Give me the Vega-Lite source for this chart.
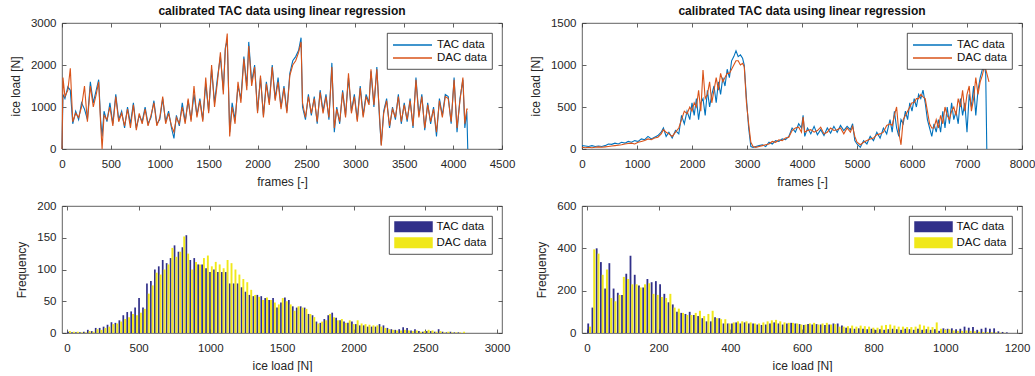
{
  "$schema": "https://vega.github.io/schema/vega-lite/v6.json",
  "background": "white",
  "padding": {"left": 9, "top": 4, "right": 0, "bottom": 0},
  "columns": 2,
  "bounds": "flush",
  "spacing": {"row": 57, "column": 80},
  "resolve": {"scale": {"color": "independent"}, "legend": {"color": "independent"}},
  "config": {
    "font": "Liberation Sans",
    "view": {"stroke": "#3a3a3a", "strokeWidth": 0.8},
    "axis": {"grid": false, "domain": false, "format": "d", "tickSize": -4, "tickColor": "#3a3a3a", "tickWidth": 0.8, "labelPadding": 10, "labelFontSize": 11.5, "labelColor": "#262626", "titleFontSize": 12, "titleFontWeight": "normal", "titleColor": "#262626", "titlePadding": 5, "labelFlush": false, "labelOverlap": false},
    "axisX": {"labelPadding": 13, "titlePadding": 7},
    "axisY": {"titlePadding": 8},
    "title": {"fontSize": 12, "fontWeight": "bold", "color": "#111111", "offset": -1},
    "legend": {"orient": "top-right", "offset": 10, "fillColor": "white", "strokeColor": "#262626", "strokeWidth": 0.8, "padding": 5, "labelFontSize": 11.5, "labelColor": "#111111", "rowPadding": 0, "labelOffset": 31}
  },
  "datasets": {
    "A": [
      {"f":0,"t":0,"d":0},{"f":10,"t":1300,"d":1700},{"f":30,"t":1200,"d":1250},{"f":60,"t":1480,"d":1400},{"f":85,"t":1400,"d":1920},{"f":110,"t":600,"d":650},{"f":140,"t":900,"d":850},{"f":170,"t":700,"d":750},{"f":200,"t":1100,"d":1000},{"f":230,"t":950,"d":1500},{"f":260,"t":700,"d":650},{"f":290,"t":1600,"d":1500},{"f":320,"t":1100,"d":1000},{"f":350,"t":1400,"d":1300},{"f":375,"t":1650,"d":1600},{"f":395,"t":700,"d":600},{"f":410,"t":300,"d":0},{"f":430,"t":900,"d":800},{"f":460,"t":650,"d":700},{"f":490,"t":1100,"d":1000},{"f":520,"t":600,"d":550},{"f":550,"t":1300,"d":1250},{"f":580,"t":700,"d":650},{"f":610,"t":900,"d":850},{"f":640,"t":500,"d":550},{"f":670,"t":1000,"d":950},{"f":700,"t":600,"d":500},{"f":730,"t":1100,"d":1050},{"f":760,"t":500,"d":450},{"f":790,"t":800,"d":850},{"f":820,"t":650,"d":600},{"f":850,"t":1000,"d":950},{"f":880,"t":600,"d":550},{"f":910,"t":750,"d":800},{"f":940,"t":1150,"d":1100},{"f":970,"t":600,"d":550},{"f":1000,"t":700,"d":750},{"f":1030,"t":1200,"d":1250},{"f":1060,"t":650,"d":600},{"f":1090,"t":900,"d":850},{"f":1120,"t":500,"d":550},{"f":1145,"t":250,"d":400},{"f":1170,"t":800,"d":750},{"f":1200,"t":550,"d":600},{"f":1230,"t":1100,"d":1000},{"f":1260,"t":650,"d":600},{"f":1290,"t":1150,"d":1200},{"f":1320,"t":700,"d":650},{"f":1350,"t":1300,"d":1500},{"f":1380,"t":800,"d":750},{"f":1410,"t":1200,"d":1150},{"f":1440,"t":700,"d":650},{"f":1470,"t":1550,"d":1700},{"f":1500,"t":900,"d":850},{"f":1530,"t":1900,"d":2000},{"f":1560,"t":1100,"d":1000},{"f":1590,"t":1700,"d":1600},{"f":1620,"t":2200,"d":2300},{"f":1650,"t":1400,"d":1300},{"f":1670,"t":2400,"d":2350},{"f":1690,"t":2600,"d":2750},{"f":1715,"t":400,"d":300},{"f":1740,"t":1100,"d":1000},{"f":1770,"t":700,"d":600},{"f":1800,"t":1500,"d":1600},{"f":1830,"t":1200,"d":1100},{"f":1860,"t":2200,"d":2150},{"f":1890,"t":1500,"d":1400},{"f":1910,"t":2550,"d":2450},{"f":1940,"t":1600,"d":1500},{"f":1970,"t":2000,"d":1950},{"f":2000,"t":900,"d":850},{"f":2030,"t":1700,"d":1750},{"f":2060,"t":800,"d":750},{"f":2090,"t":1600,"d":1550},{"f":2120,"t":1100,"d":1050},{"f":2150,"t":2000,"d":1950},{"f":2180,"t":1200,"d":1150},{"f":2210,"t":1700,"d":1600},{"f":2240,"t":1000,"d":950},{"f":2270,"t":1500,"d":1450},{"f":2300,"t":900,"d":850},{"f":2330,"t":1800,"d":1750},{"f":2360,"t":2100,"d":2000},{"f":2390,"t":2200,"d":2100},{"f":2420,"t":2350,"d":2300},{"f":2445,"t":2650,"d":2550},{"f":2460,"t":1000,"d":1100},{"f":2490,"t":700,"d":750},{"f":2520,"t":1300,"d":1250},{"f":2550,"t":800,"d":850},{"f":2580,"t":1250,"d":1200},{"f":2610,"t":600,"d":650},{"f":2640,"t":1400,"d":1350},{"f":2670,"t":900,"d":850},{"f":2700,"t":1300,"d":1250},{"f":2730,"t":700,"d":750},{"f":2760,"t":2050,"d":1950},{"f":2785,"t":400,"d":500},{"f":2810,"t":1000,"d":950},{"f":2840,"t":600,"d":650},{"f":2870,"t":1400,"d":1350},{"f":2900,"t":800,"d":750},{"f":2930,"t":1700,"d":1800},{"f":2960,"t":900,"d":850},{"f":2990,"t":1300,"d":1250},{"f":3020,"t":700,"d":650},{"f":3050,"t":1500,"d":1450},{"f":3080,"t":800,"d":750},{"f":3110,"t":1300,"d":1250},{"f":3140,"t":1100,"d":1050},{"f":3160,"t":1850,"d":1900},{"f":3190,"t":1000,"d":1050},{"f":3220,"t":1950,"d":1900},{"f":3250,"t":600,"d":700},{"f":3265,"t":100,"d":80},{"f":3290,"t":900,"d":850},{"f":3320,"t":1200,"d":1150},{"f":3350,"t":500,"d":550},{"f":3380,"t":1000,"d":950},{"f":3410,"t":700,"d":750},{"f":3440,"t":1300,"d":1250},{"f":3470,"t":600,"d":650},{"f":3500,"t":1100,"d":1050},{"f":3530,"t":650,"d":700},{"f":3560,"t":1200,"d":1150},{"f":3590,"t":500,"d":550},{"f":3620,"t":1700,"d":1650},{"f":3650,"t":800,"d":750},{"f":3680,"t":1300,"d":1250},{"f":3710,"t":450,"d":500},{"f":3740,"t":1100,"d":1050},{"f":3770,"t":600,"d":650},{"f":3800,"t":1000,"d":950},{"f":3830,"t":300,"d":400},{"f":3860,"t":1200,"d":1150},{"f":3890,"t":800,"d":750},{"f":3920,"t":1300,"d":1250},{"f":3950,"t":1250,"d":1200},{"f":3980,"t":600,"d":650},{"f":4010,"t":1700,"d":1650},{"f":4040,"t":400,"d":500},{"f":4070,"t":1200,"d":1150},{"f":4100,"t":1650,"d":1700},{"f":4120,"t":500,"d":600},{"f":4140,"t":900,"d":950},{"f":4150,"t":0,"d":950}
    ],
    "B": [
      {"f":0,"t":40,"d":20},{"f":60,"t":35,"d":15},{"f":120,"t":30,"d":20},{"f":180,"t":40,"d":15},{"f":240,"t":30,"d":20},{"f":300,"t":35,"d":25},{"f":360,"t":30,"d":20},{"f":420,"t":40,"d":25},{"f":480,"t":60,"d":30},{"f":540,"t":55,"d":35},{"f":600,"t":70,"d":40},{"f":660,"t":60,"d":45},{"f":720,"t":80,"d":50},{"f":780,"t":70,"d":60},{"f":840,"t":90,"d":65},{"f":900,"t":80,"d":70},{"f":960,"t":100,"d":60},{"f":1020,"t":90,"d":80},{"f":1080,"t":120,"d":90},{"f":1140,"t":110,"d":100},{"f":1200,"t":150,"d":120},{"f":1260,"t":120,"d":110},{"f":1320,"t":140,"d":130},{"f":1380,"t":160,"d":140},{"f":1440,"t":200,"d":180},{"f":1480,"t":250,"d":230},{"f":1530,"t":150,"d":200},{"f":1580,"t":200,"d":180},{"f":1640,"t":130,"d":150},{"f":1700,"t":220,"d":200},{"f":1760,"t":180,"d":250},{"f":1810,"t":400,"d":350},{"f":1860,"t":300,"d":450},{"f":1910,"t":450,"d":420},{"f":1960,"t":350,"d":500},{"f":2000,"t":550,"d":450},{"f":2040,"t":400,"d":550},{"f":2080,"t":600,"d":500},{"f":2120,"t":350,"d":700},{"f":2160,"t":550,"d":450},{"f":2200,"t":600,"d":940},{"f":2240,"t":400,"d":600},{"f":2280,"t":700,"d":650},{"f":2320,"t":500,"d":800},{"f":2360,"t":650,"d":550},{"f":2400,"t":750,"d":700},{"f":2440,"t":550,"d":850},{"f":2480,"t":800,"d":700},{"f":2520,"t":650,"d":900},{"f":2560,"t":850,"d":800},{"f":2600,"t":750,"d":850},{"f":2640,"t":950,"d":900},{"f":2680,"t":850,"d":900},{"f":2720,"t":1050,"d":950},{"f":2760,"t":1100,"d":1000},{"f":2800,"t":1170,"d":1050},{"f":2840,"t":1100,"d":1050},{"f":2880,"t":1120,"d":1000},{"f":2920,"t":1080,"d":1020},{"f":2950,"t":1000,"d":980},{"f":2990,"t":600,"d":550},{"f":3030,"t":250,"d":300},{"f":3070,"t":30,"d":80},{"f":3110,"t":20,"d":30},{"f":3160,"t":30,"d":20},{"f":3220,"t":40,"d":30},{"f":3280,"t":50,"d":40},{"f":3340,"t":30,"d":50},{"f":3400,"t":80,"d":60},{"f":3460,"t":60,"d":90},{"f":3520,"t":100,"d":80},{"f":3580,"t":90,"d":110},{"f":3640,"t":120,"d":100},{"f":3700,"t":110,"d":130},{"f":3760,"t":150,"d":140},{"f":3820,"t":250,"d":220},{"f":3880,"t":200,"d":250},{"f":3940,"t":300,"d":260},{"f":3990,"t":250,"d":200},{"f":4020,"t":400,"d":380},{"f":4050,"t":150,"d":200},{"f":4100,"t":250,"d":220},{"f":4160,"t":180,"d":230},{"f":4220,"t":270,"d":200},{"f":4280,"t":170,"d":220},{"f":4340,"t":230,"d":260},{"f":4400,"t":160,"d":180},{"f":4460,"t":250,"d":200},{"f":4520,"t":190,"d":250},{"f":4580,"t":270,"d":220},{"f":4640,"t":200,"d":230},{"f":4700,"t":280,"d":250},{"f":4760,"t":220,"d":180},{"f":4820,"t":270,"d":250},{"f":4880,"t":230,"d":200},{"f":4920,"t":300,"d":270},{"f":4960,"t":100,"d":150},{"f":5000,"t":60,"d":80},{"f":5060,"t":20,"d":50},{"f":5120,"t":100,"d":80},{"f":5180,"t":60,"d":100},{"f":5240,"t":150,"d":120},{"f":5300,"t":100,"d":130},{"f":5360,"t":200,"d":170},{"f":5420,"t":130,"d":180},{"f":5480,"t":250,"d":200},{"f":5540,"t":180,"d":280},{"f":5600,"t":350,"d":300},{"f":5640,"t":200,"d":280},{"f":5680,"t":450,"d":400},{"f":5720,"t":250,"d":500},{"f":5760,"t":150,"d":200},{"f":5800,"t":350,"d":50},{"f":5840,"t":300,"d":350},{"f":5880,"t":450,"d":400},{"f":5920,"t":350,"d":450},{"f":5960,"t":550,"d":500},{"f":6000,"t":450,"d":550},{"f":6040,"t":600,"d":550},{"f":6080,"t":500,"d":600},{"f":6120,"t":650,"d":600},{"f":6160,"t":600,"d":650},{"f":6200,"t":700,"d":620},{"f":6240,"t":550,"d":600},{"f":6280,"t":350,"d":450},{"f":6320,"t":250,"d":300},{"f":6360,"t":150,"d":250},{"f":6400,"t":300,"d":250},{"f":6440,"t":200,"d":350},{"f":6480,"t":350,"d":250},{"f":6520,"t":200,"d":400},{"f":6560,"t":450,"d":300},{"f":6600,"t":250,"d":500},{"f":6640,"t":500,"d":400},{"f":6680,"t":300,"d":350},{"f":6720,"t":550,"d":450},{"f":6760,"t":350,"d":500},{"f":6800,"t":450,"d":400},{"f":6840,"t":300,"d":600},{"f":6880,"t":600,"d":500},{"f":6920,"t":400,"d":700},{"f":6960,"t":550,"d":450},{"f":7000,"t":200,"d":650},{"f":7040,"t":650,"d":750},{"f":7080,"t":500,"d":450},{"f":7120,"t":750,"d":600},{"f":7160,"t":400,"d":850},{"f":7200,"t":700,"d":650},{"f":7240,"t":850,"d":800},{"f":7280,"t":950,"d":880},{"f":7320,"t":980,"d":1000},{"f":7340,"t":900,"d":950},{"f":7360,"t":0,"d":900},{"f":7400,"d":800}
    ],
    "C": [
      {"c":14,"t":2,"d":3},{"c":41.5,"t":1,"d":2},{"c":69,"t":1,"d":2},{"c":96.5,"t":1,"d":1},{"c":124,"t":2,"d":1},{"c":151.5,"t":5,"d":3},{"c":179,"t":3,"d":2},{"c":206.5,"t":8,"d":6},{"c":234,"t":8,"d":5},{"c":261.5,"t":10,"d":8},{"c":289,"t":13,"d":10},{"c":316.5,"t":17,"d":14},{"c":344,"t":16,"d":15},{"c":371.5,"t":20,"d":18},{"c":399,"t":28,"d":22},{"c":426.5,"t":33,"d":25},{"c":454,"t":34,"d":30},{"c":481.5,"t":40,"d":28},{"c":509,"t":55,"d":32},{"c":536.5,"t":40,"d":38},{"c":564,"t":78,"d":62},{"c":591.5,"t":82,"d":75},{"c":619,"t":100,"d":95},{"c":646.5,"t":105,"d":92},{"c":674,"t":115,"d":100},{"c":701.5,"t":110,"d":108},{"c":729,"t":118,"d":134},{"c":756.5,"t":138,"d":120},{"c":784,"t":128,"d":128},{"c":811.5,"t":135,"d":152},{"c":839,"t":154,"d":125},{"c":866.5,"t":115,"d":100},{"c":894,"t":118,"d":112},{"c":921.5,"t":108,"d":108},{"c":949,"t":108,"d":118},{"c":976.5,"t":102,"d":122},{"c":1004,"t":96,"d":105},{"c":1031.5,"t":100,"d":112},{"c":1059,"t":96,"d":108},{"c":1086.5,"t":96,"d":102},{"c":1114,"t":96,"d":115},{"c":1141.5,"t":78,"d":110},{"c":1169,"t":78,"d":100},{"c":1196.5,"t":78,"d":92},{"c":1224,"t":72,"d":85},{"c":1251.5,"t":65,"d":80},{"c":1279,"t":60,"d":68},{"c":1306.5,"t":58,"d":60},{"c":1334,"t":60,"d":57},{"c":1361.5,"t":58,"d":52},{"c":1389,"t":55,"d":56},{"c":1416.5,"t":52,"d":52},{"c":1444,"t":55,"d":48},{"c":1471.5,"t":40,"d":45},{"c":1499,"t":48,"d":55},{"c":1526.5,"t":56,"d":50},{"c":1554,"t":52,"d":45},{"c":1581.5,"t":42,"d":35},{"c":1609,"t":40,"d":42},{"c":1636.5,"t":42,"d":40},{"c":1664,"t":40,"d":38},{"c":1691.5,"t":30,"d":30},{"c":1719,"t":28,"d":25},{"c":1746.5,"t":18,"d":15},{"c":1774,"t":16,"d":18},{"c":1801.5,"t":22,"d":20},{"c":1829,"t":28,"d":30},{"c":1856.5,"t":32,"d":25},{"c":1884,"t":24,"d":20},{"c":1911.5,"t":20,"d":22},{"c":1939,"t":18,"d":16},{"c":1966.5,"t":16,"d":20},{"c":1994,"t":18,"d":14},{"c":2021.5,"t":14,"d":20},{"c":2049,"t":12,"d":15},{"c":2076.5,"t":12,"d":14},{"c":2104,"t":10,"d":13},{"c":2131.5,"t":10,"d":12},{"c":2159,"t":10,"d":12},{"c":2186.5,"t":14,"d":10},{"c":2214,"t":12,"d":8},{"c":2241.5,"t":8,"d":6},{"c":2269,"t":6,"d":5},{"c":2296.5,"t":5,"d":4},{"c":2324,"t":6,"d":4},{"c":2351.5,"t":9,"d":5},{"c":2379,"t":8,"d":4},{"c":2406.5,"t":4,"d":3},{"c":2434,"t":6,"d":4},{"c":2461.5,"t":3,"d":2},{"c":2489,"t":2,"d":3},{"c":2516.5,"t":3,"d":5},{"c":2544,"t":3,"d":4},{"c":2571.5,"t":2,"d":2},{"c":2599,"t":6,"d":3},{"c":2626.5,"t":2,"d":1},{"c":2654,"t":1,"d":2},{"c":2681.5,"t":2,"d":1},{"c":2709,"t":1,"d":1},{"c":2736.5,"t":1,"d":1},{"c":2764,"t":0,"d":2}
    ],
    "D": [
      {"c":5.9,"t":45,"d":30},{"c":17.7,"t":120,"d":395},{"c":29.5,"t":400,"d":375},{"c":41.3,"t":335,"d":275},{"c":53.1,"t":210,"d":300},{"c":64.9,"t":330,"d":165},{"c":76.7,"t":210,"d":150},{"c":88.5,"t":190,"d":180},{"c":100.3,"t":180,"d":265},{"c":112.1,"t":280,"d":255},{"c":123.9,"t":365,"d":230},{"c":135.7,"t":275,"d":230},{"c":147.5,"t":225,"d":215},{"c":159.3,"t":215,"d":230},{"c":171.1,"t":255,"d":235},{"c":182.9,"t":240,"d":185},{"c":194.7,"t":245,"d":180},{"c":206.5,"t":230,"d":170},{"c":218.3,"t":185,"d":165},{"c":230.1,"t":145,"d":185},{"c":241.9,"t":135,"d":120},{"c":253.7,"t":100,"d":115},{"c":265.5,"t":95,"d":95},{"c":277.3,"t":90,"d":85},{"c":289.1,"t":100,"d":85},{"c":300.9,"t":85,"d":95},{"c":312.7,"t":80,"d":105},{"c":324.5,"t":70,"d":80},{"c":336.3,"t":55,"d":90},{"c":348.1,"t":55,"d":105},{"c":359.9,"t":75,"d":70},{"c":371.7,"t":70,"d":65},{"c":383.5,"t":45,"d":65},{"c":395.3,"t":45,"d":45},{"c":407.1,"t":45,"d":50},{"c":418.9,"t":50,"d":55},{"c":430.7,"t":45,"d":55},{"c":442.5,"t":50,"d":55},{"c":454.3,"t":45,"d":50},{"c":466.1,"t":45,"d":45},{"c":477.9,"t":40,"d":45},{"c":489.7,"t":38,"d":50},{"c":501.5,"t":40,"d":55},{"c":513.3,"t":45,"d":60},{"c":525.1,"t":50,"d":62},{"c":536.9,"t":45,"d":55},{"c":548.7,"t":40,"d":50},{"c":560.5,"t":45,"d":48},{"c":572.3,"t":48,"d":48},{"c":584.1,"t":45,"d":45},{"c":595.9,"t":42,"d":40},{"c":607.7,"t":38,"d":40},{"c":619.5,"t":42,"d":45},{"c":631.3,"t":40,"d":48},{"c":643.1,"t":42,"d":40},{"c":654.9,"t":40,"d":45},{"c":666.7,"t":38,"d":48},{"c":678.5,"t":40,"d":40},{"c":690.3,"t":45,"d":42},{"c":702.1,"t":45,"d":30},{"c":713.9,"t":35,"d":30},{"c":725.7,"t":25,"d":32},{"c":737.5,"t":22,"d":35},{"c":749.3,"t":20,"d":30},{"c":761.1,"t":22,"d":35},{"c":772.9,"t":20,"d":32},{"c":784.7,"t":18,"d":30},{"c":796.5,"t":20,"d":25},{"c":808.3,"t":15,"d":25},{"c":820.1,"t":18,"d":35},{"c":831.9,"t":15,"d":38},{"c":843.7,"t":18,"d":40},{"c":855.5,"t":20,"d":35},{"c":867.3,"t":18,"d":30},{"c":879.1,"t":15,"d":30},{"c":890.9,"t":20,"d":28},{"c":902.7,"t":18,"d":28},{"c":914.5,"t":15,"d":30},{"c":926.3,"t":20,"d":40},{"c":938.1,"t":15,"d":35},{"c":949.9,"t":18,"d":30},{"c":961.7,"t":15,"d":28},{"c":973.5,"t":18,"d":50},{"c":985.3,"t":10,"d":20},{"c":997.1,"t":22,"d":15},{"c":1008.9,"t":20,"d":18},{"c":1020.7,"t":22,"d":12},{"c":1032.5,"t":18,"d":10},{"c":1044.3,"t":20,"d":10},{"c":1056.1,"t":30,"d":12},{"c":1067.9,"t":25,"d":10},{"c":1079.7,"t":28,"d":8},{"c":1091.5,"t":15,"d":6},{"c":1103.3,"t":20,"d":5},{"c":1115.1,"t":25,"d":5},{"c":1126.9,"t":20,"d":4},{"c":1138.7,"t":22,"d":3},{"c":1150.5,"t":8,"d":2},{"c":1162.3,"t":5,"d":1},{"c":1174.1,"t":3,"d":0}
    ]
  },
  "concat": [
    {
      "width": 440, "height": 126,
      "title": "calibrated TAC data using linear regression",
      "data": {"name": "A"},
      "resolve": {"axis": {"x": "independent", "y": "independent"}},
      "layer": [
        {"mark": {"type": "line", "strokeWidth": 1.1}, "encoding": {
          "x": {"field": "f", "type": "quantitative", "scale": {"domain": [0, 4500], "nice": false}, "axis": {"title": "frames [-]", "values": [0,500,1000,1500,2000,2500,3000,3500,4000,4500]}},
          "y": {"field": "t", "type": "quantitative", "scale": {"domain": [0, 3000], "nice": false}, "axis": {"title": "ice load [N]", "values": [0,1000,2000,3000]}},
          "color": {"datum": "TAC data", "type": "nominal", "scale": {"domain": ["TAC data", "DAC data"], "range": ["#0072BD", "#D95319"]}, "legend": {"title": null, "orient": "top-right", "symbolType": "M-1,0H5.5", "symbolSize": 144, "symbolStrokeWidth": 1.5}}
        }},
        {"mark": {"type": "line", "strokeWidth": 1.1}, "encoding": {
          "x": {"field": "f", "type": "quantitative", "axis": null},
          "y": {"field": "d", "type": "quantitative", "axis": null},
          "color": {"datum": "DAC data", "type": "nominal"}
        }},
        {"mark": {"type": "point", "opacity": 0}, "encoding": {
          "x": {"field": "f", "type": "quantitative", "axis": {"orient": "top", "labels": false, "title": null, "values": [0,500,1000,1500,2000,2500,3000,3500,4000,4500]}},
          "y": {"field": "t", "type": "quantitative", "axis": {"orient": "right", "labels": false, "title": null, "values": [0,1000,2000,3000]}}
        }}
      ]
    },
    {
      "width": 440, "height": 126,
      "title": "calibrated TAC data using linear regression",
      "data": {"name": "B"},
      "resolve": {"axis": {"x": "independent", "y": "independent"}},
      "layer": [
        {"mark": {"type": "line", "strokeWidth": 1.1}, "encoding": {
          "x": {"field": "f", "type": "quantitative", "scale": {"domain": [0, 8000], "nice": false}, "axis": {"title": "frames [-]", "values": [0,1000,2000,3000,4000,5000,6000,7000,8000]}},
          "y": {"field": "t", "type": "quantitative", "scale": {"domain": [0, 1500], "nice": false}, "axis": {"title": "ice load [N]", "values": [0,500,1000,1500]}},
          "color": {"datum": "TAC data", "type": "nominal", "scale": {"domain": ["TAC data", "DAC data"], "range": ["#0072BD", "#D95319"]}, "legend": {"title": null, "orient": "top-right", "symbolType": "M-1,0H5.5", "symbolSize": 144, "symbolStrokeWidth": 1.5}}
        }},
        {"mark": {"type": "line", "strokeWidth": 1.1}, "encoding": {
          "x": {"field": "f", "type": "quantitative", "axis": null},
          "y": {"field": "d", "type": "quantitative", "axis": null},
          "color": {"datum": "DAC data", "type": "nominal"}
        }},
        {"mark": {"type": "point", "opacity": 0}, "encoding": {
          "x": {"field": "f", "type": "quantitative", "axis": {"orient": "top", "labels": false, "title": null, "values": [0,1000,2000,3000,4000,5000,6000,7000,8000]}},
          "y": {"field": "t", "type": "quantitative", "axis": {"orient": "right", "labels": false, "title": null, "values": [0,500,1000,1500]}}
        }}
      ]
    },
    {
      "width": 440, "height": 127,
      "data": {"name": "C"},
      "resolve": {"axis": {"x": "independent", "y": "independent"}},
      "layer": [
        {"mark": {"type": "bar", "size": 1.7, "xOffset": -0.9}, "encoding": {
          "x": {"field": "c", "type": "quantitative", "scale": {"domain": [0, 3000], "nice": false}, "axis": {"title": "ice load [N]", "values": [0,500,1000,1500,2000,2500,3000]}},
          "y": {"field": "t", "type": "quantitative", "scale": {"domain": [0, 200], "nice": false}, "axis": {"title": "Frequency", "values": [0,50,100,150,200]}},
          "color": {"datum": "TAC data", "type": "nominal", "scale": {"domain": ["TAC data", "DAC data"], "range": ["#31308A", "#F0E81A"]}, "legend": {"title": null, "orient": "top-right", "rowPadding": 3, "symbolType": "M-1,-1H6V1H-1Z", "symbolSize": 121, "symbolStrokeWidth": 0}}
        }},
        {"mark": {"type": "bar", "size": 1.9, "xOffset": 0.9}, "encoding": {
          "x": {"field": "c", "type": "quantitative", "axis": null},
          "y": {"field": "d", "type": "quantitative", "axis": null},
          "color": {"datum": "DAC data", "type": "nominal"}
        }},
        {"mark": {"type": "point", "opacity": 0}, "encoding": {
          "x": {"field": "c", "type": "quantitative", "axis": {"orient": "top", "labels": false, "title": null, "values": [0,500,1000,1500,2000,2500,3000]}},
          "y": {"field": "t", "type": "quantitative", "axis": {"orient": "right", "labels": false, "title": null, "values": [0,50,100,150,200]}}
        }}
      ]
    },
    {
      "width": 440, "height": 127,
      "data": {"name": "D"},
      "resolve": {"axis": {"x": "independent", "y": "independent"}},
      "layer": [
        {"mark": {"type": "bar", "size": 1.8, "xOffset": -0.9}, "encoding": {
          "x": {"field": "c", "type": "quantitative", "scale": {"domain": [0, 1200], "nice": false}, "axis": {"title": "ice load [N]", "values": [0,200,400,600,800,1000,1200]}},
          "y": {"field": "t", "type": "quantitative", "scale": {"domain": [0, 600], "nice": false}, "axis": {"title": "Frequency", "values": [0,200,400,600]}},
          "color": {"datum": "TAC data", "type": "nominal", "scale": {"domain": ["TAC data", "DAC data"], "range": ["#31308A", "#F0E81A"]}, "legend": {"title": null, "orient": "top-right", "rowPadding": 3, "symbolType": "M-1,-1H6V1H-1Z", "symbolSize": 121, "symbolStrokeWidth": 0}}
        }},
        {"mark": {"type": "bar", "size": 2, "xOffset": 0.9}, "encoding": {
          "x": {"field": "c", "type": "quantitative", "axis": null},
          "y": {"field": "d", "type": "quantitative", "axis": null},
          "color": {"datum": "DAC data", "type": "nominal"}
        }},
        {"mark": {"type": "point", "opacity": 0}, "encoding": {
          "x": {"field": "c", "type": "quantitative", "axis": {"orient": "top", "labels": false, "title": null, "values": [0,200,400,600,800,1000,1200]}},
          "y": {"field": "t", "type": "quantitative", "axis": {"orient": "right", "labels": false, "title": null, "values": [0,200,400,600]}}
        }}
      ]
    }
  ]
}
